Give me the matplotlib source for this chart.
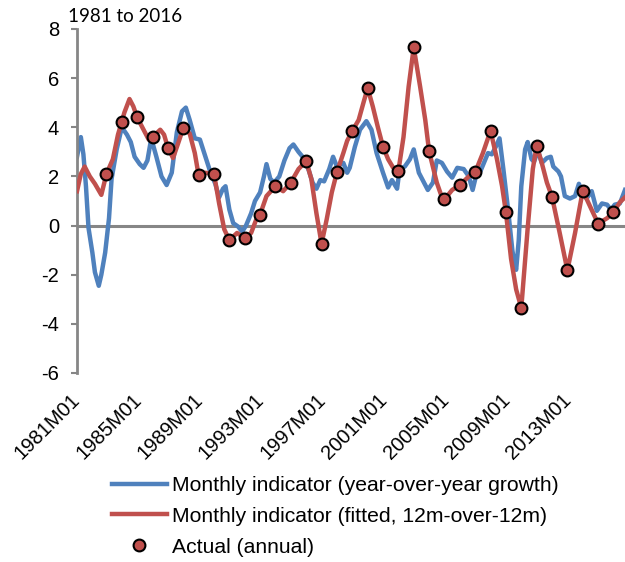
import matplotlib
matplotlib.use("Agg")
import matplotlib.pyplot as plt

# monthly indicator, year-over-year growth
blue_periods = ["1981M01", "1981M04", "1981M06", "1981M08", "1981M10", "1982M01", "1982M03", "1982M06",
                "1982M08", "1982M11", "1983M02", "1983M04", "1983M08", "1983M12", "1984M04", "1984M07",
                "1984M10", "1985M02", "1985M05", "1985M08", "1985M11", "1986M03", "1986M07", "1986M11",
                "1987M03", "1987M07", "1987M11", "1988M02", "1988M05", "1988M09", "1989M01", "1989M05",
                "1989M09", "1990M01", "1990M04", "1990M07", "1990M09", "1990M12", "1991M03", "1991M07",
                "1991M10", "1992M01", "1992M05", "1992M08", "1992M12", "1993M03", "1993M05", "1993M08",
                "1993M11", "1994M03", "1994M07", "1994M11", "1995M02", "1995M06", "1995M10", "1996M02",
                "1996M05", "1996M08", "1996M11", "1997M02", "1997M06", "1997M09", "1997M12", "1998M03",
                "1998M05", "1998M08", "1998M10", "1999M02", "1999M06", "1999M11", "2000M03", "2000M07",
                "2000M12", "2001M04", "2001M07", "2001M11", "2002M01", "2002M05", "2002M09", "2002M12",
                "2003M04", "2003M08", "2003M11", "2004M03", "2004M06", "2004M10", "2005M02", "2005M06",
                "2005M10", "2006M03", "2006M07", "2006M10", "2007M01", "2007M04", "2007M08", "2007M10",
                "2008M01", "2008M04", "2008M07", "2008M10", "2009M02", "2009M05", "2009M07", "2009M08",
                "2009M10", "2009M12", "2010M03", "2010M05", "2010M08", "2010M10", "2011M01", "2011M04",
                "2011M08", "2011M11", "2012M01", "2012M05", "2012M07", "2012M10", "2013M02", "2013M06",
                "2013M09", "2013M11", "2014M03", "2014M07", "2014M11", "2015M03", "2015M07", "2015M10",
                "2016M01", "2016M05", "2016M09"]
blue_values = [2.8, 3.6, 2.9, 1.6, -0.1, -1.1, -1.9, -2.45,
               -2.0, -1.1, 0.3, 1.9, 3.1, 4.0, 3.7, 3.4,
               2.8, 2.5, 2.35, 2.65, 3.55, 2.8, 2.0, 1.65,
               2.15, 3.8, 4.65, 4.8, 4.3, 3.55, 3.5, 2.85,
               2.2, 1.7, 1.15, 1.5, 1.6, 0.65, 0.1, -0.05,
               -0.25, 0.0, 0.5, 1.0, 1.35, 2.0, 2.5, 1.9,
               1.75, 2.0, 2.65, 3.15, 3.3, 3.0, 2.75, 2.25,
               1.75, 1.5, 1.85, 1.8, 2.3, 2.8, 2.4, 2.5,
               2.55, 2.15, 2.35, 3.2, 3.9, 4.25, 3.9, 2.95,
               2.15, 1.55, 1.85, 1.5, 2.3, 2.4, 2.7, 3.1,
               2.15, 1.75, 1.45, 1.75, 2.65, 2.55, 2.2, 1.95,
               2.35, 2.3, 2.0, 1.45, 2.1, 2.2, 2.7, 2.95,
               2.9, 3.2, 3.55, 2.3, 0.5, -1.0, -1.65, -1.8,
               -0.6, 1.6, 3.1, 3.4, 2.7, 2.6, 3.05, 2.55,
               2.75, 2.8, 2.4, 2.2, 2.0, 1.2, 1.1, 1.2,
               1.7, 1.45, 1.1, 1.4, 0.6, 0.9, 0.85, 0.65,
               0.85, 0.9, 1.45]

# monthly indicator, fitted 12m-over-12m
red_periods = ["1981M01", "1981M04", "1981M07", "1981M11", "1982M03", "1982M08", "1982M12", "1983M05",
               "1983M09", "1983M12", "1984M02", "1984M06", "1984M09", "1984M12", "1985M05", "1985M09",
               "1985M12", "1986M06", "1986M09", "1986M12", "1987M04", "1987M08", "1987M12", "1988M05",
               "1988M09", "1988M12", "1989M05", "1989M12", "1990M04", "1990M08", "1990M12", "1991M06",
               "1991M12", "1992M05", "1992M09", "1992M12", "1993M05", "1993M12", "1994M06", "1994M12",
               "1995M06", "1995M12", "1996M04", "1996M08", "1996M12", "1997M04", "1997M08", "1997M12",
               "1998M05", "1998M08", "1998M12", "1999M05", "1999M09", "1999M12", "2000M04", "2000M08",
               "2000M12", "2001M04", "2001M08", "2001M12", "2002M04", "2002M08", "2002M12", "2003M05",
               "2003M09", "2003M12", "2004M06", "2004M09", "2004M12", "2005M06", "2005M12", "2006M07",
               "2006M12", "2007M06", "2007M12", "2008M05", "2008M09", "2008M12", "2009M04", "2009M08",
               "2009M12", "2010M05", "2010M09", "2010M12", "2011M04", "2011M08", "2011M12", "2012M06",
               "2012M12", "2013M06", "2013M12", "2014M06", "2014M12", "2015M07", "2015M12", "2016M05",
               "2016M09"]
red_values = [1.4, 2.1, 2.4, 2.0, 1.7, 1.25, 2.1, 2.7,
              3.7, 4.23, 4.6, 5.15, 4.85, 4.4, 3.9, 3.5,
              3.6, 3.9, 3.7, 3.17, 2.75, 3.35, 3.97, 3.75,
              2.95, 2.05, 2.15, 2.1, 0.9, -0.15, -0.6, -0.3,
              -0.52, -0.3, 0.25, 0.45, 1.2, 1.6, 1.4, 1.75,
              2.3, 2.63, 1.9, 0.5, -0.74, 0.25, 1.35, 2.17,
              2.95, 3.45, 3.85, 4.3, 5.05, 5.6, 4.85, 4.0,
              3.21, 2.7, 2.35, 2.22, 3.6, 5.65, 7.25, 5.65,
              4.3, 3.02, 1.75, 1.3, 1.07, 1.45, 1.65, 2.0,
              2.17, 2.95, 3.86, 2.7, 1.6, 0.54, -1.35, -2.6,
              -3.35, -0.1, 2.3, 3.25, 2.55, 1.75, 1.17, -0.3,
              -1.82, -0.3, 1.42, 0.75, 0.08, 0.3, 0.54, 0.95,
              1.15]

# actual annual growth, shown at December of each year
annual_years = list(range(1982, 2016))
annual_values = [2.1, 4.23, 4.4, 3.6, 3.17, 3.97, 2.05, 2.1, -0.6, -0.52, 0.45, 1.6, 1.75, 2.63,
                 -0.74, 2.17, 3.85, 5.6, 3.21, 2.22, 7.25, 3.02, 1.07, 1.65, 2.17, 3.86, 0.54,
                 -3.35, 3.25, 1.17, -1.82, 1.42, 0.08, 0.54]

tick_labels = ["1981M01", "1985M01", "1989M01", "1993M01", "1997M01",
               "2001M01", "2005M01", "2009M01", "2013M01"]


def month_index(period):
    year, month = period.split("M")
    return (int(year) - 1981) * 12 + int(month) - 1


blue = "#4F81BD"
red = "#C0504D"
grey = "#868686"

plt.rcParams['font.family'] = ['Liberation Sans', 'DejaVu Sans']
plt.rcParams['axes.unicode_minus'] = False

fig = plt.figure(figsize=(6.25, 5.62), dpi=100)
ax = fig.add_axes([77 / 625, 1 - 373 / 562, 1 - 77 / 625, (373 - 29) / 562])

ax.axhline(0, color=grey, lw=2.2, zorder=1)

ax.plot([month_index(p) for p in blue_periods], blue_values, color=blue, lw=3.2,
        solid_joinstyle='round', label="Monthly indicator (year-over-year growth)", zorder=2)
ax.plot([month_index(p) for p in red_periods], red_values, color=red, lw=3.2,
        solid_joinstyle='round', label="Monthly indicator (fitted, 12m-over-12m)", zorder=3)
ax.plot([month_index(f"{y}M12") for y in annual_years], annual_values, 'o', color=red,
        markersize=8.5, markeredgecolor='black', markeredgewidth=1.5,
        label="Actual (annual)", zorder=4)

ax.set_xlim(0, 428)
ax.set_ylim(-6, 8)
ax.set_yticks(range(-6, 9, 2))
ax.set_xticks([month_index(t) for t in tick_labels])
ax.set_xticklabels(tick_labels, rotation=45, ha='right', va='center', rotation_mode='anchor')

for side in ['top', 'right', 'bottom']:
    ax.spines[side].set_visible(False)
ax.spines['left'].set_color(grey)
ax.spines['left'].set_linewidth(2)
ax.tick_params(axis='y', length=4, width=1.5, color=grey, pad=9, labelsize=14.5)
ax.tick_params(axis='x', length=0, pad=17, labelsize=14.5)

fig.text(68 / 625, 1 - 17 / 562, "1981 to 2016", fontsize=13.5, family=['Lato', 'DejaVu Sans'],
         va='center', ha='left')

fig.legend(loc='upper left', bbox_to_anchor=(112 / 625, 1 - 476 / 562), frameon=False,
           fontsize=15.2, handlelength=2.6, handletextpad=0.25, labelspacing=0.56,
           borderpad=0, borderaxespad=0)

fig.savefig("out.png", dpi=100)
